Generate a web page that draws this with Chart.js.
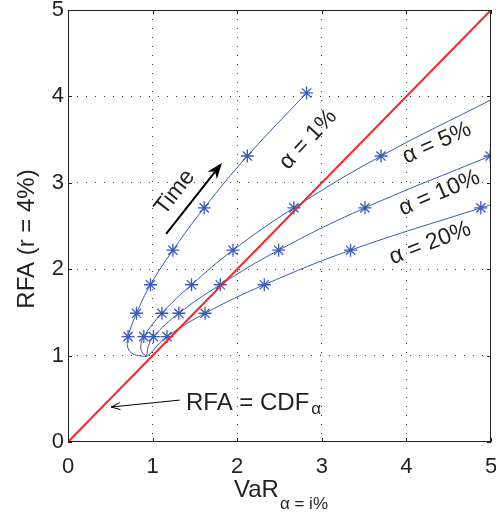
<!DOCTYPE html>
<html>
<head>
<meta charset="utf-8">
<script src="https://cdn.jsdelivr.net/npm/chart.js@4"></script>
<style>
  html, body { margin: 0; padding: 0; background: #ffffff; }
  #wrap { width: 496px; height: 513px; position: relative; }
</style>
</head>
<body>
<div id="wrap"><canvas id="c"></canvas></div>
<script>
// ---- Data ----
const tickValues = [0, 1, 2, 3, 4, 5];

// alpha = 1%
const curve1X = [0.93, 0.83, 0.75, 0.705, 0.71, 0.81, 0.975, 1.24, 1.61, 2.12, 2.82];
const curve1Y = [0.99, 1.00, 1.03, 1.10, 1.22, 1.49, 1.82, 2.22, 2.71, 3.31, 4.04];
const marks1X = [0.71, 0.81, 0.975, 1.24, 1.61, 2.12, 2.82];
const marks1Y = [1.22, 1.49, 1.82, 2.22, 2.71, 3.31, 4.04];

// alpha = 5%
const curve5X = [0.93, 0.88, 0.86, 0.896, 1.11, 1.46, 1.95, 2.67, 3.70, 5.00];
const curve5Y = [0.99, 1.03, 1.11, 1.22, 1.49, 1.82, 2.22, 2.71, 3.31, 3.96];
const marks5X = [0.896, 1.11, 1.46, 1.95, 2.67, 3.70];
const marks5Y = [1.22, 1.49, 1.82, 2.22, 2.71, 3.31];

// alpha = 10%
const curve10X = [0.93, 0.935, 0.95, 1.01, 1.31, 1.80, 2.49, 3.51, 4.99];
const curve10Y = [0.99, 1.03, 1.11, 1.22, 1.49, 1.82, 2.22, 2.71, 3.31];
const marks10X = [1.01, 1.31, 1.80, 2.49, 3.51, 4.99];
const marks10Y = [1.22, 1.49, 1.82, 2.22, 2.71, 3.31];

// alpha = 20%
const curve20X = [0.93, 0.97, 1.05, 1.17, 1.62, 2.32, 3.34, 4.88, 5.00];
const curve20Y = [0.99, 1.02, 1.11, 1.22, 1.49, 1.82, 2.22, 2.71, 2.745];
const marks20X = [1.17, 1.62, 2.32, 3.34, 4.88];
const marks20Y = [1.22, 1.49, 1.82, 2.22, 2.71];

// RFA = CDF line
const diagX = [0, 5];
const diagY = [0, 5];

// ---- helpers ----
const pts = (xs, ys) => xs.map((x, i) => ({ x: x, y: ys[i] }));
const BLUE = '#3a5ab6';
const RED = '#ee2b2b';
const TXT = '#231f20';
const FONT = '"Liberation Sans", Arial, Helvetica, sans-serif';

function lineDs(xs, ys) {
  return { data: pts(xs, ys), borderColor: BLUE, borderWidth: 1, pointRadius: 0,
           tension: 0.4, showLine: true, fill: false, order: 2 };
}
function markDs(xs, ys) {
  return { data: pts(xs, ys), showLine: false, pointStyle: 'star', pointRadius: 6.5,
           pointBorderColor: BLUE, pointBackgroundColor: BLUE, pointBorderWidth: 1.3, order: 1 };
}

const annot = {
  id: 'annot',
  afterDatasetsDraw(chart) {
    const ctx = chart.ctx;
    const xs = chart.scales.x, ys = chart.scales.y;
    const X = v => xs.getPixelForValue(v), Y = v => ys.getPixelForValue(v);
    const a = chart.chartArea;
    ctx.save();
    // box
    ctx.strokeStyle = TXT; ctx.lineWidth = 1;
    ctx.strokeRect(Math.round(a.left) + 0.5, Math.round(a.top) + 0.5,
                   Math.round(a.right - a.left) - 1, Math.round(a.bottom - a.top) - 1);
    // inward ticks
    const tl = 4;
    tickValues.forEach(v => {
      const px = Math.round(X(v)) + 0.5, py = Math.round(Y(v)) + 0.5;
      ctx.beginPath();
      ctx.moveTo(px, a.bottom); ctx.lineTo(px, a.bottom - tl);
      ctx.moveTo(px, a.top); ctx.lineTo(px, a.top + tl);
      ctx.moveTo(a.left, py); ctx.lineTo(a.left + tl, py);
      ctx.moveTo(a.right, py); ctx.lineTo(a.right - tl, py);
      ctx.stroke();
    });

    ctx.fillStyle = TXT;
    ctx.textAlign = 'center'; ctx.textBaseline = 'middle';
    function rotText(t, x, y, deg, size) {
      ctx.save();
      ctx.translate(X(x), Y(y));
      ctx.rotate(deg * Math.PI / 180);
      ctx.font = size + 'px ' + FONT;
      ctx.fillText(t, 0, 0);
      ctx.restore();
    }
    rotText('Time', 1.265, 2.89, -52, 23);
    rotText('\u03b1 = 1%', 2.84, 3.50, -47, 23);
    rotText('\u03b1 = 5%', 4.36, 3.46, -24, 23);
    rotText('\u03b1 = 10%', 4.39, 2.88, -23, 23);
    rotText('\u03b1 = 20%', 4.28, 2.30, -21, 23);

    // Time arrow
    const x0 = X(1.16), y0 = Y(2.41), x1 = X(1.82), y1 = Y(3.23);
    const ang = Math.atan2(y1 - y0, x1 - x0);
    ctx.strokeStyle = '#000'; ctx.fillStyle = '#000'; ctx.lineWidth = 2;
    ctx.beginPath();
    ctx.moveTo(x0, y0);
    ctx.lineTo(x1 - 10 * Math.cos(ang), y1 - 10 * Math.sin(ang));
    ctx.stroke();
    ctx.beginPath();
    ctx.moveTo(x1, y1);
    ctx.lineTo(x1 - 16 * Math.cos(ang) + 6 * Math.sin(ang), y1 - 16 * Math.sin(ang) - 6 * Math.cos(ang));
    ctx.lineTo(x1 - 11 * Math.cos(ang), y1 - 11 * Math.sin(ang));
    ctx.lineTo(x1 - 16 * Math.cos(ang) - 6 * Math.sin(ang), y1 - 16 * Math.sin(ang) + 6 * Math.cos(ang));
    ctx.closePath();
    ctx.fill();

    // RFA = CDF arrow
    const ax0 = X(1.32), ay0 = Y(0.485), ax1 = X(0.51), ay1 = Y(0.405);
    const ang2 = Math.atan2(ay1 - ay0, ax1 - ax0);
    ctx.lineWidth = 1;
    ctx.beginPath();
    ctx.moveTo(ax0, ay0); ctx.lineTo(ax1, ay1);
    ctx.moveTo(ax1 - 9 * Math.cos(ang2) + 3.5 * Math.sin(ang2), ay1 - 9 * Math.sin(ang2) - 3.5 * Math.cos(ang2));
    ctx.lineTo(ax1, ay1);
    ctx.lineTo(ax1 - 9 * Math.cos(ang2) - 3.5 * Math.sin(ang2), ay1 - 9 * Math.sin(ang2) + 3.5 * Math.cos(ang2));
    ctx.stroke();

    ctx.fillStyle = TXT;
    ctx.textAlign = 'left'; ctx.textBaseline = 'alphabetic';
    ctx.font = '24px ' + FONT;
    ctx.fillText('RFA = CDF', 186, 410);
    const w = ctx.measureText('RFA = CDF').width;
    ctx.font = '17px ' + FONT;
    ctx.fillText('\u03b1', 186 + w + 2, 414);

    // x axis title with subscript
    ctx.font = '24px ' + FONT;
    ctx.fillText('VaR', 234, 497);
    const w2 = ctx.measureText('VaR').width;
    ctx.font = '17px ' + FONT;
    ctx.fillText('\u03b1 = i%', 234 + w2 + 1, 509);

    // y axis title
    ctx.save();
    ctx.translate(34, 239);
    ctx.rotate(-Math.PI / 2);
    ctx.textAlign = 'center';
    ctx.font = '24px ' + FONT;
    ctx.fillText('RFA (r = 4%)', 0, 0);
    ctx.restore();

    ctx.restore();
  }
};

const gridColor = c => (c.tick && (c.tick.value === 0 || c.tick.value === 5)) ? 'rgba(0,0,0,0)' : '#444';

new Chart(document.getElementById('c'), {
  type: 'scatter',
  data: {
    datasets: [
      { data: pts(diagX, diagY), showLine: true, borderColor: RED, borderWidth: 2,
        pointRadius: 0, order: 0, tension: 0 },
      lineDs(curve1X, curve1Y), markDs(marks1X, marks1Y),
      lineDs(curve5X, curve5Y), markDs(marks5X, marks5Y),
      lineDs(curve10X, curve10Y), markDs(marks10X, marks10Y),
      lineDs(curve20X, curve20Y), markDs(marks20X, marks20Y)
    ]
  },
  options: {
    responsive: true,
    maintainAspectRatio: false,
    animation: false,
    layout: { autoPadding: false, padding: { top: 10, right: 5, left: 0, bottom: 0 } },
    plugins: { legend: { display: false }, tooltip: { enabled: false } },
    scales: {
      x: {
        type: 'linear', min: 0, max: 5,
        afterFit: s => { s.height = 71; s.paddingLeft = 0; s.paddingRight = 0; },
        ticks: { stepSize: 1, padding: 12, color: TXT, font: { size: 22, family: FONT } },
        grid: { color: gridColor, drawTicks: false, lineWidth: 1 },
        border: { display: false, dash: [1, 8] }
      },
      y: {
        type: 'linear', min: 0, max: 5,
        afterFit: s => { s.width = 68; s.paddingTop = 0; s.paddingBottom = 0; },
        ticks: { stepSize: 1, padding: 4, color: TXT, font: { size: 22, family: FONT } },
        grid: { color: gridColor, drawTicks: false, lineWidth: 1 },
        border: { display: false, dash: [1, 8] }
      }
    }
  },
  plugins: [annot]
});
</script>
</body>
</html>
